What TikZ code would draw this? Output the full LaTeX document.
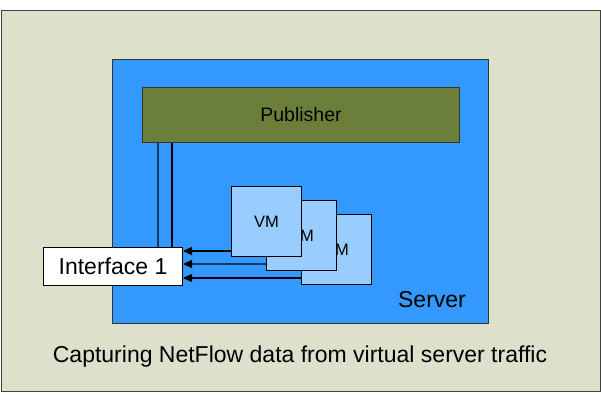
\documentclass[tikz,border=0pt]{standalone}
\usepackage{fontspec}
\setmainfont{Liberation Sans}
\usetikzlibrary{arrows.meta}
\definecolor{bgc}{HTML}{DDE0CB}
\definecolor{srv}{HTML}{3399FF}
\definecolor{pub}{HTML}{6B7F3A}
\definecolor{vmc}{HTML}{99CCFF}
\definecolor{dline}{HTML}{163A5F}
\tikzset{
  vmbox/.style={draw=black, fill=vmc, line width=1pt, minimum width=70pt, minimum height=70pt, inner sep=0pt, font=\fontsize{16.5}{19}\selectfont},
  arr/.style={line width=1.2pt, -{Triangle[length=9pt,width=8pt,color=black]}},
  vline/.style={line width=1.2pt}
}
\begin{document}
\begin{tikzpicture}[x=1pt,y=-1pt]
\useasboundingbox (0,0) rectangle (601,401);
\fill[white] (0,0) rectangle (601,401);
\node[draw=black!75, fill=bgc, line width=1pt, minimum width=599pt, minimum height=380pt, inner sep=0pt, anchor=north west] (outer) at (0.5,10.5) {};
\node[draw=black!80, fill=srv, line width=1pt, minimum width=376pt, minimum height=264pt, inner sep=0pt, anchor=north west] (server) at (112,59) {};
\node[draw=black!80, fill=pub, line width=1pt, minimum width=317pt, minimum height=55pt, inner sep=0pt, anchor=north west, font=\fontsize{19.5}{23}\selectfont] (publisher) at (142,87) {Publisher};
\node[draw=black, fill=white, line width=1pt, minimum width=139pt, minimum height=38pt, inner sep=0pt, anchor=north west, font=\fontsize{23}{27}\selectfont] (iface) at (43,247) {Interface 1};
\node[vmbox, anchor=north west] (vm3) at (301,214) {VM};
\node[vmbox, anchor=north west] (vm2) at (266,200) {VM};
\node[vmbox, anchor=north west] (vm1) at (231,186) {VM};
\node[font=\fontsize{23}{27}\selectfont, anchor=center] (srvlabel) at (432,300) {Server};
\node[font=\fontsize{23}{27}\selectfont, anchor=center] (caption) at (300,357) {Capturing NetFlow data from virtual server traffic};
\coordinate (p1) at (158,0);
\coordinate (p2) at (172,0);
\draw[vline, draw=dline] (publisher.south -| p1) -- (iface.north -| p1);
\draw[vline] (publisher.south -| p2) -- (iface.north -| p2);
\coordinate (a1) at (0,251);
\coordinate (a2) at (0,264);
\coordinate (a3) at (0,278);
\draw[arr] (vm1.west |- a1) -- (iface.east |- a1);
\draw[arr, draw=dline] (vm2.west |- a2) -- (iface.east |- a2);
\draw[arr] (vm3.west |- a3) -- (iface.east |- a3);
\end{tikzpicture}
\end{document}
